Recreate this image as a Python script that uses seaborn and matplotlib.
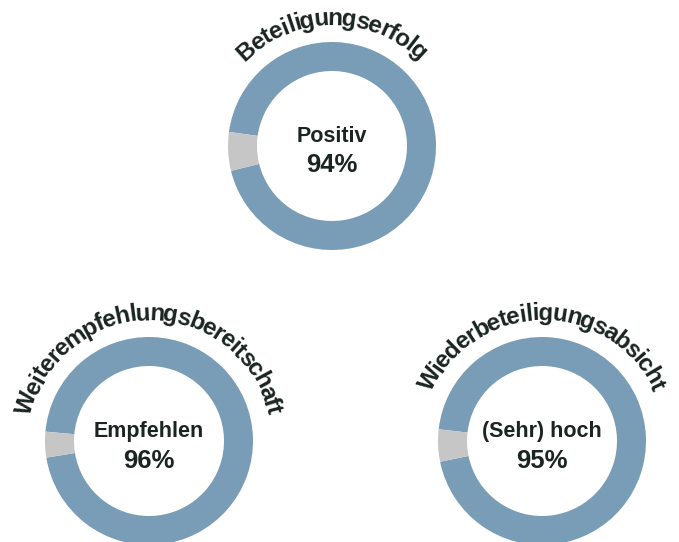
import matplotlib
matplotlib.use("Agg")
import matplotlib.pyplot as plt
import seaborn as sns
from matplotlib.font_manager import FontProperties
import numpy as np

# Daten
titles = ["Beteiligungserfolg", "Weiterempfehlungsbereitschaft", "Wiederbeteiligungsabsicht"]
labels = ["Positiv", "Empfehlen", "(Sehr) hoch"]
positive = [94, 96, 95]

# Layout (Pixel, y von oben)
centers = [(332, 146), (149, 441), (542, 441)]
W, H = 679, 542
R_OUT = 104
RING = 29
R_TEXT = 121
TRACKING = 0.9

BLUE = "#799db6"
GREY = "#c6c6c6"
TXT = "#1a2420"

sns.set_theme(style="white")
plt.rcParams["font.family"] = ["Liberation Sans", "DejaVu Sans"]

fig = plt.figure(figsize=(W / 100, H / 100), dpi=100)
ax = fig.add_axes([0, 0, 1, 1])
ax.set_xlim(0, W)
ax.set_ylim(0, H)
ax.set_aspect("equal")
ax.axis("off")

renderer = fig.canvas.get_renderer()
title_font = FontProperties(family="Liberation Sans", weight="bold", size=17.5)


def text_width(s):
    if not s:
        return 0.0
    return renderer.get_text_width_height_descent(s, title_font, ismath=False)[0]


def curved_title(text, cx, cy, r):
    # Buchstaben einzeln entlang eines Bogens setzen
    widths = [text_width(text[:i]) * TRACKING for i in range(len(text) + 1)]
    total = widths[-1]
    for i, ch in enumerate(text):
        mid = (widths[i] + widths[i + 1]) / 2 - total / 2
        theta = np.pi / 2 - mid / r
        x = cx + r * np.cos(theta)
        y = cy + r * np.sin(theta)
        ax.text(x, y, ch, fontproperties=title_font, color=TXT,
                rotation=np.degrees(theta) - 90, rotation_mode="anchor",
                ha="center", va="baseline")


for title, label, pct, (cx, cy) in zip(titles, labels, positive, centers):
    cy_up = H - cy
    rest = 100 - pct
    start = 180 + 0.64 * rest * 3.6
    ax.pie([pct, rest], colors=[BLUE, GREY], center=(cx, cy_up), radius=R_OUT,
           startangle=start, counterclock=True,
           wedgeprops=dict(width=RING, linewidth=0))
    ax.text(cx, cy_up + 4, label, ha="center", va="baseline",
            fontsize=15.5, fontweight="bold", color=TXT)
    ax.text(cx, cy_up - 26.5, f"{pct}%", ha="center", va="baseline",
            fontsize=18.5, fontweight="bold", color=TXT)
    curved_title(title, cx, cy_up, R_TEXT)

ax.set_xlim(0, W)
ax.set_ylim(0, H)

fig.savefig("out.png", dpi=100)
